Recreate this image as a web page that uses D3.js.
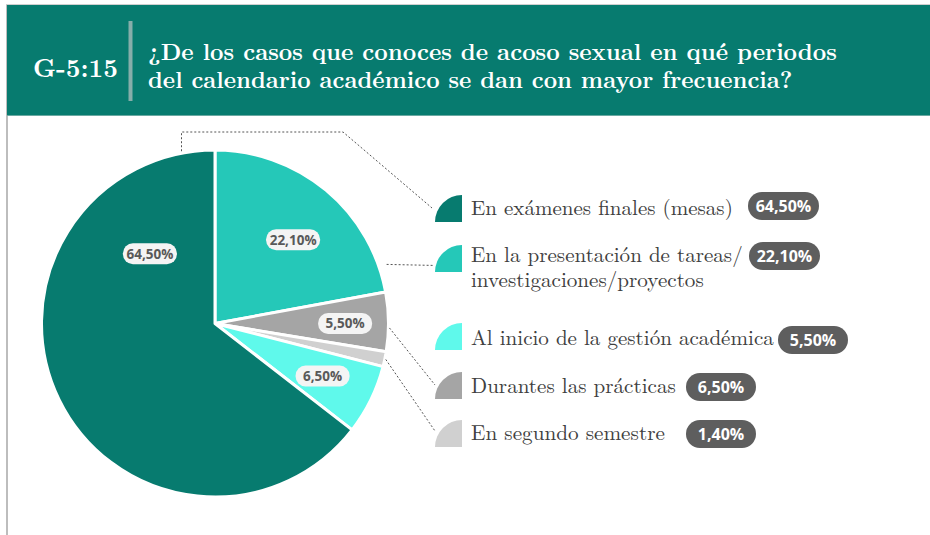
<!DOCTYPE html>
<html><head><meta charset="utf-8">
<script src="https://cdn.jsdelivr.net/npm/d3@7/dist/d3.min.js"></script>
<style>body{margin:0;background:#fff}svg{display:block}</style>
</head><body>
<svg id="c" width="930" height="535"></svg>
<script>
// ---- data ----
const chartCode = "G-5:15";
const titleLines = ["¿De los casos que conoces de acoso sexual en qué periodos", "del calendario académico se dan con mayor frecuencia?"];
// pie slices, clockwise from 12 o'clock
const sliceNames = ["En la presentación de tareas/ investigaciones/proyectos", "Durantes las prácticas", "En segundo semestre", "Al inicio de la gestión académica", "En exámenes finales (mesas)"];
const sliceValues = [22.1, 5.5, 1.4, 6.5, 64.5];
// legend
const legendLines = [["En exámenes finales (mesas)"], ["En la presentación de tareas/", "investigaciones/proyectos"], ["Al inicio de la gestión académica"], ["Durantes las prácticas"], ["En segundo semestre"]];
const legendValues = [64.5, 22.1, 5.5, 6.5, 1.4];

// ---- styles / layout ----
const SERIF = "'Latin Modern Roman', 'Liberation Serif'";
const SANS = "'Open Sans'";
const sliceColors = ["#25c8b8", "#a5a5a5", "#d0d0d0", "#5ff9eb", "#077b6f"];
const legendColors = ["#077b6f", "#25c8b8", "#5ff9eb", "#a5a5a5", "#d0d0d0"];
const legendTextW = [[262], [272, 233], [303], [205], [194]];
const legendBaseY = [215, 262, 345, 393, 440];
const legendMarkY = [195, 245, 323, 372, 420];
const badgeX = [748, 749, 778, 686, 686];
const badgeY = [192, 242, 326, 373, 420];
const badgeW = [71, 71, 70, 70, 70];
// label placement (polar: angle in degrees from north, radius fraction); null = no label
const labelPlace = [[43, 0.66], [90, 0.75], null, [116, 0.69], [317, 0.55]];

const fmt = v => d3.format(".2f")(v).replace(".", ",") + "%";
const svg = d3.select("#c");
const W = 930, H = 535;

// fit a text to a target width: scale font within limits, then letter-spacing for the rest
function fit(t, target, size, minSize, maxSize) {
  t.style("font-size", size + "px");
  const n0 = t.node().getComputedTextLength();
  const s = Math.max(minSize, Math.min(maxSize, size * target / n0));
  t.style("font-size", s + "px");
  const n1 = t.node().getComputedTextLength();
  const chars = t.text().length;
  if (target > n1 + 1) t.style("letter-spacing", ((target - n1) / chars) + "px");
  return t;
}

// frame
svg.append("line").attr("x1", 7).attr("x2", 7).attr("y1", 4).attr("y2", H).attr("stroke", "#bdbdbd").attr("stroke-width", 2);
svg.append("line").attr("x1", 6).attr("x2", W).attr("y1", 4.5).attr("y2", 4.5).attr("stroke", "#cfcfcf").attr("stroke-width", 1);
svg.append("rect").attr("x", 7).attr("y", 5).attr("width", W - 7).attr("height", 110).attr("fill", "#077b6f");
svg.append("line").attr("x1", 7).attr("x2", W).attr("y1", 115.5).attr("y2", 115.5).attr("stroke", "#6aa9a2").attr("stroke-width", 1);
svg.append("rect").attr("x", 128.5).attr("y", 21).attr("width", 4).attr("height", 80).attr("fill", "#86aeaa");

fit(svg.append("text").attr("x", 33).attr("y", 77).text(chartCode)
  .style("font-family", SERIF).style("font-weight", "bold").attr("fill", "#fff"), 85, 24, 22, 26);
const titleW = [689, 645];
titleLines.forEach((t, i) => {
  fit(svg.append("text").attr("x", 148).attr("y", 60 + i * 28).text(t)
    .style("font-family", SERIF).style("font-weight", "bold").attr("fill", "#fff"), titleW[i], 24, 22, 26);
});

// pie
const cx = 215, cy = 323.5, R = 173.5;
const pie = d3.pie().sort(null).value(d => d)(sliceValues);
const arc = d3.arc().innerRadius(0).outerRadius(R);
const g = svg.append("g").attr("transform", `translate(${cx},${cy})`);
g.selectAll("path").data(pie).join("path")
  .attr("d", arc).attr("fill", (d, i) => sliceColors[i])
  .attr("stroke", "#fff").attr("stroke-width", 3).attr("stroke-linejoin", "round");

const polar = (deg, r) => [Math.sin(deg * Math.PI / 180) * r, -Math.cos(deg * Math.PI / 180) * r];

// slice labels
pie.forEach((d, i) => {
  const lp = labelPlace[i];
  if (!lp) return;
  const [x, y] = polar(lp[0], lp[1] * R);
  const lg = g.append("g").attr("transform", `translate(${x},${y})`);
  lg.append("rect").attr("x", -27).attr("y", -10.5).attr("width", 54).attr("height", 21).attr("rx", 10)
    .attr("fill", "#f4f4f4");
  lg.append("text").attr("text-anchor", "middle").attr("dy", "0.36em").text(fmt(d.value))
    .style("font-family", SANS).style("font-weight", "bold").style("font-size", "13.5px")
    .attr("fill", "#595959");
});

// leader lines (slice edge -> legend marker)
const deg = a => a * 180 / Math.PI;
const pt = (a, r) => { const p = polar(a, r); return [p[0] + cx, p[1] + cy]; };
const leaders = [];
{ // dark teal slice (index 4)
  const s = pt(deg(pie[4].endAngle) - 11, R + 2);
  leaders.push([s, [s[0], 132], [343, 132], [432, legendMarkY[0] + 13]]);
}
{ // turquoise (index 0)
  const s = pt(deg(pie[0].startAngle) + 71, R + 8);
  leaders.push([s, [433, s[1] + 1]]);
}
{ // gray (index 1)
  const s = pt(deg((pie[1].startAngle + pie[1].endAngle) / 2) + 2, R + 1);
  leaders.push([s, [435, legendMarkY[3] + 13]]);
}
{ // light gray (index 2)
  const s = pt(deg((pie[2].startAngle + pie[2].endAngle) / 2), R + 1);
  leaders.push([s, [435, legendMarkY[4] + 11]]);
}
leaders.forEach(p => {
  svg.append("path").attr("d", d3.line()(p)).attr("fill", "none")
    .attr("stroke", "#555").attr("stroke-width", 1).attr("stroke-dasharray", "2,2");
});

// legend
legendLines.forEach((lines, i) => {
  const mx = 435, my = legendMarkY[i], s = 27;
  svg.append("path").attr("d", `M${mx + s},${my + s}L${mx},${my + s}A${s},${s} 0 0 1 ${mx + s},${my}Z`)
    .attr("fill", legendColors[i]);
  lines.forEach((t, j) => {
    fit(svg.append("text").attr("x", 471).attr("y", legendBaseY[i] + j * 25).text(t)
      .style("font-family", SERIF).attr("fill", "#404040"), legendTextW[i][j], 20, 18, 23);
  });
  svg.append("rect").attr("x", badgeX[i]).attr("y", badgeY[i]).attr("width", badgeW[i]).attr("height", 28)
    .attr("rx", 14).attr("fill", "#5e5e5e");
  svg.append("text").attr("x", badgeX[i] + badgeW[i] / 2).attr("y", badgeY[i] + 14).attr("dy", "0.36em")
    .attr("text-anchor", "middle").text(fmt(legendValues[i]))
    .style("font-family", SANS).style("font-weight", "bold").style("font-size", "16px")
    .attr("fill", "#fff");
});
</script>
</body></html>
